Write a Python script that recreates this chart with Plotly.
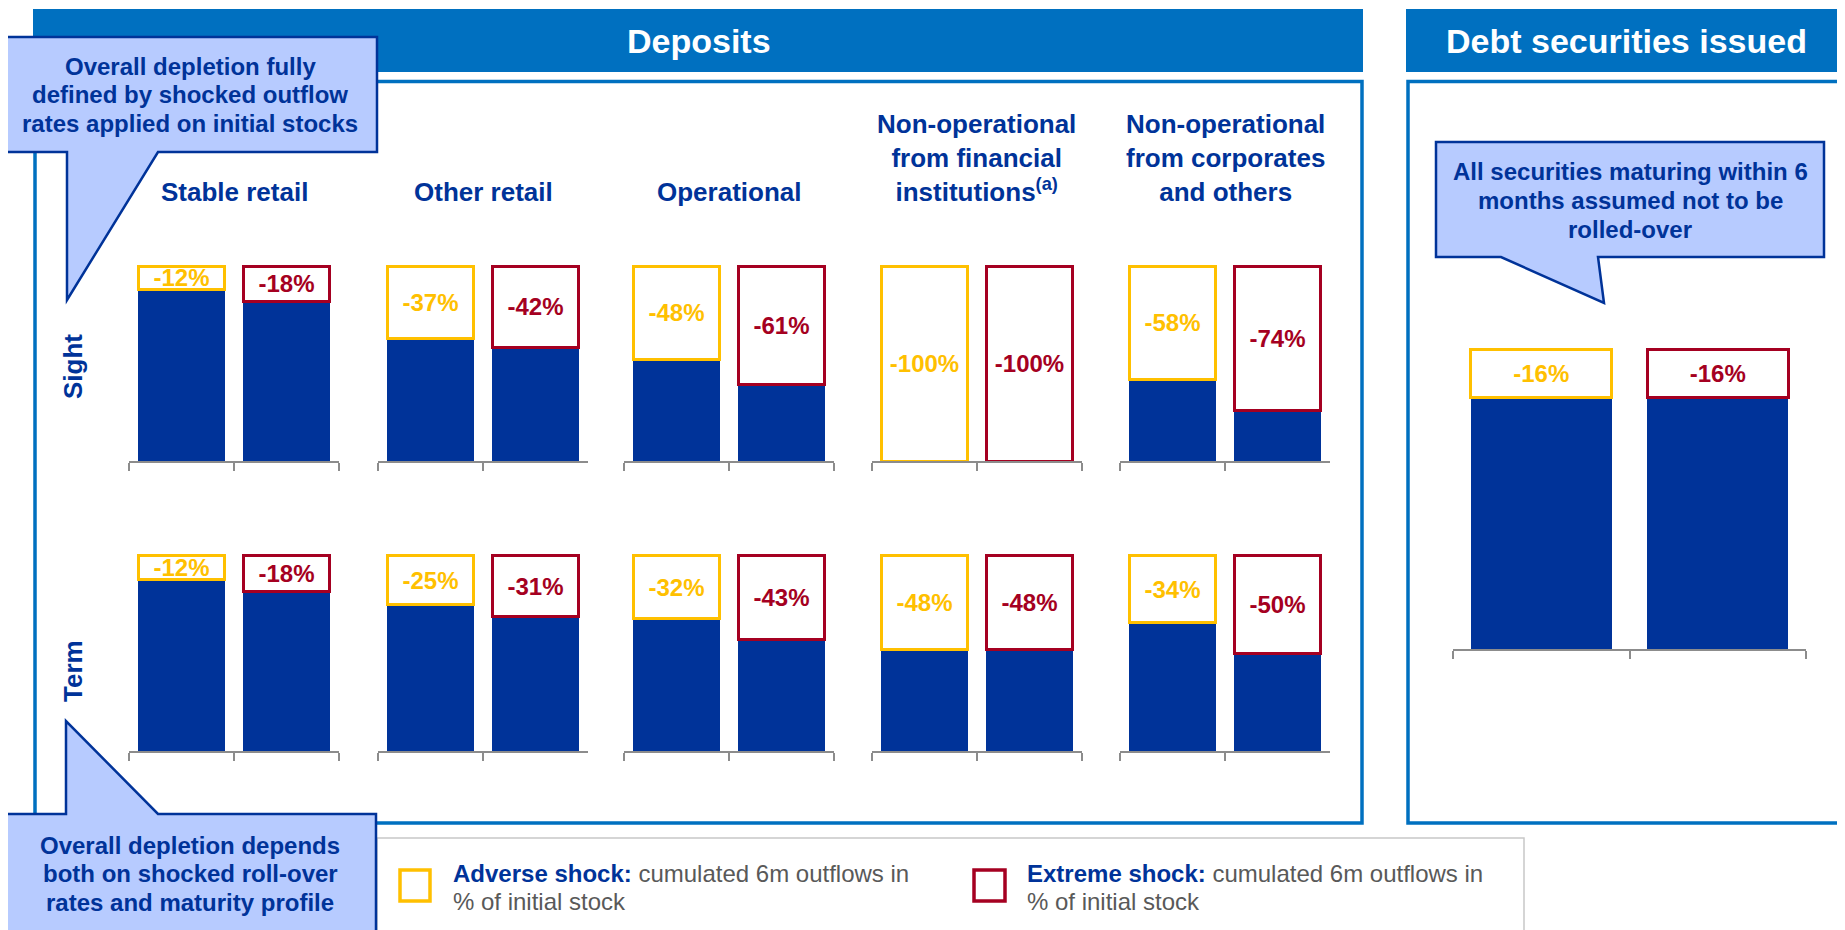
import plotly.graph_objects as go

W, H = 1845, 930
# the page body keeps an 8px margin, so reference pixels are shifted back by it
OX, OY = 8, 8

# === Data ===
groups = ["Stable retail", "Other retail", "Operational",
          "Non-operational<br>from financial<br>institutions<sup>(a)</sup>",
          "Non-operational<br>from corporates<br>and others"]
rows = ["Sight", "Term"]
shocks = ["Adverse", "Extreme"]
sight_adverse = [12, 37, 48, 100, 58]
sight_extreme = [18, 42, 61, 100, 74]
term_adverse = [12, 25, 32, 48, 34]
term_extreme = [18, 31, 43, 48, 50]
debt_adverse = [16]
debt_extreme = [16]

BLUE = "#003399"
HEAD = "#0070C0"
YEL = "#FFC000"
RED = "#A50021"
CALL = "#B7CBFF"
GREY = "#595959"
FONT = "Arial, Liberation Sans, sans-serif"


def px(x):
    return (x - OX) / W


def py(y):
    return 1 - (y - OY) / H


fig = go.Figure()
axes = {}

# (left px, right px, bottom px, height px, adverse, extreme, bar width)
panels = []
group_left = [129, 378, 624, 872, 1120]
for bottom, adv, ext in [(461, sight_adverse, sight_extreme), (751, term_adverse, term_extreme)]:
    for i in range(len(groups)):
        panels.append((group_left[i], group_left[i] + 210, bottom, 195, adv[i], ext[i], 0.82))
panels.append((1453, 1806, 649, 299, debt_adverse[0], debt_extreme[0], 0.8))

for k, (x0, x1, yb, h, a, e, bw) in enumerate(panels, start=1):
    sfx = "" if k == 1 else str(k)
    xa, ya = "x" + sfx, "y" + sfx
    fig.add_trace(go.Bar(x=shocks, y=[100 - a, 100 - e], xaxis=xa, yaxis=ya, width=bw,
                         marker=dict(color=BLUE, line=dict(width=0)), hoverinfo="skip"))
    fig.add_trace(go.Bar(x=shocks, y=[a, e], xaxis=xa, yaxis=ya, width=bw,
                         marker=dict(color="white", line=dict(color=[YEL, RED], width=3)),
                         text=[f"-{a}%", f"-{e}%"], textposition="inside",
                         insidetextanchor="middle", textangle=0, constraintext="none",
                         textfont=dict(family=FONT, size=24, color=[YEL, RED], weight="bold"),
                         hoverinfo="skip"))
    axes["xaxis" + sfx] = dict(domain=[px(x0), px(x1)], anchor=ya, type="category",
                               range=[-0.5, 1.5], showline=True, linecolor="#8C8C8C",
                               linewidth=2, ticks="outside", tickson="boundaries", ticklen=8,
                               tickwidth=2, tickcolor="#8C8C8C", showticklabels=False,
                               showgrid=False, zeroline=False, fixedrange=True)
    axes["yaxis" + sfx] = dict(domain=[py(yb), py(yb - h * 1.02)], anchor=xa, range=[0, 102],
                               visible=False, fixedrange=True)

# === Frames and callouts ===
def rect(x0, y0, x1, y1, **kw):
    return dict(type="rect", xref="paper", yref="paper", x0=px(x0), x1=px(x1),
                y0=py(y1), y1=py(y0), layer="above", **kw)


def poly(pts, **kw):
    path = "M " + " L ".join(f"{px(x)},{py(y)}" for x, y in pts) + " Z"
    return dict(type="path", xref="paper", yref="paper", path=path, layer="above", **kw)


callout_style = dict(fillcolor=CALL, line=dict(color=BLUE, width=2.5))
shapes = [
    rect(33, 9, 1363, 72, fillcolor=HEAD, line=dict(width=0)),
    rect(1406, 9, 1870, 72, fillcolor=HEAD, line=dict(width=0)),
    rect(35, 81.5, 1362, 823, line=dict(color=HEAD, width=3.5)),
    rect(1408, 81.5, 1870, 823, line=dict(color=HEAD, width=3.5)),
    rect(377, 838, 1524, 950, line=dict(color="#C8C8C8", width=1.5)),
    poly([(4, 37), (377, 37), (377, 152), (158, 152), (67, 300), (67, 152), (4, 152)], **callout_style),
    poly([(4, 814), (66, 814), (66, 721), (158, 814), (376, 814), (376, 950), (4, 950)], **callout_style),
    poly([(1436, 142), (1824, 142), (1824, 257), (1598, 257), (1604, 303), (1501, 257), (1436, 257)],
         **callout_style),
    rect(400, 870, 430, 901, line=dict(color=YEL, width=3.5)),
    rect(974, 870, 1005, 901, line=dict(color=RED, width=3.5)),
]

annotations = []


def note(text, x, y, size, color=BLUE, bold=True, xanchor="center", yanchor="middle", angle=0):
    annotations.append(dict(text=text, x=px(x), y=py(y), xref="paper", yref="paper",
                            xanchor=xanchor, yanchor=yanchor, showarrow=False, textangle=angle,
                            font=dict(family=FONT, size=size, color=color,
                                      weight="bold" if bold else "normal")))


note("Deposits", 699, 41, 34, color="white")
note("Debt securities issued", 1626, 41, 34, color="white")

for i, g in enumerate(groups):
    note(g, group_left[i] + 105, 209, 26, yanchor="bottom")

note(rows[0], 73, 367, 26, angle=-90)
note(rows[1], 73, 671, 26, angle=-90)

callouts = [
    (["Overall depletion fully", "defined by shocked outflow", "rates applied on initial stocks"], 190, 66),
    (["Overall depletion depends", "both on shocked roll-over", "rates and maturity profile"], 190, 845),
    (["All securities maturing within 6", "months assumed not to be", "rolled-over"], 1630, 172),
]
for lines, cx, y0 in callouts:
    for j, line in enumerate(lines):
        note(line, cx, y0 + 28.5 * j, 24)

for x0, label in [(451, "Adverse shock:"), (1025, "Extreme shock:")]:
    note(f"<b><span style='color:{BLUE}'>{label}</span></b> cumulated 6m outflows in",
         x0, 873, 24, color=GREY, bold=False, xanchor="left")
    note("% of initial stock", x0, 901, 24, color=GREY, bold=False, xanchor="left")

fig.update_layout(width=W, height=H, margin=dict(l=0, r=0, t=0, b=0),
                  paper_bgcolor="white", plot_bgcolor="rgba(0,0,0,0)",
                  barmode="stack", showlegend=False, shapes=shapes,
                  annotations=annotations, font=dict(family=FONT), **axes)

fig.write_html("out.html")
